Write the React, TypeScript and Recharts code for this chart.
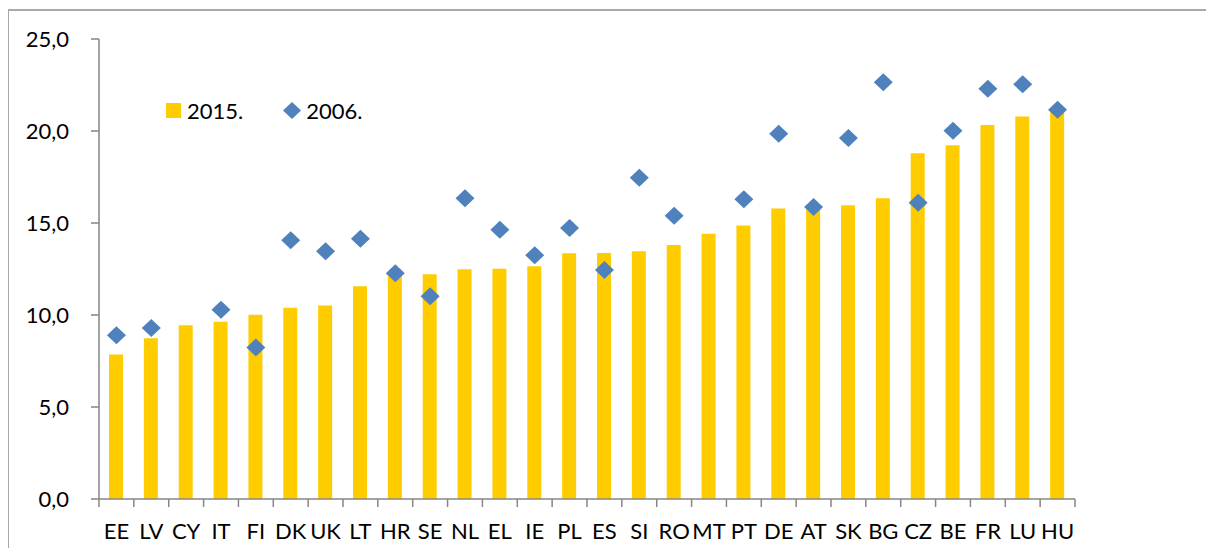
import { ComposedChart, Bar, Line, XAxis, YAxis } from "recharts";

const countries = [
  "EE", "LV", "CY", "IT", "FI", "DK", "UK", "LT", "HR", "SE", "NL", "EL", "IE", "PL",
  "ES", "SI", "RO", "MT", "PT", "DE", "AT", "SK", "BG", "CZ", "BE", "FR", "LU", "HU",
];
const values2015 = [
  7.85, 8.73, 9.44, 9.63, 10.02, 10.4, 10.52, 11.56, 12.25, 12.21, 12.48, 12.52, 12.65, 13.35,
  13.37, 13.46, 13.81, 14.42, 14.87, 15.79, 15.8, 15.96, 16.35, 18.79, 19.23, 20.33, 20.79, 21.05,
];
const values2006: (number | null)[] = [
  8.9, 9.29, null, 10.29, 8.23, 14.06, 13.46, 14.15, 12.27, 11.02, 16.35, 14.63, 13.25, 14.73,
  12.44, 17.46, 15.4, null, 16.29, 19.85, 15.87, 19.62, 22.65, 16.1, 20.02, 22.29, 22.54, 21.15,
];
const yTicks = [0, 5, 10, 15, 20, 25];
const seriesNames = ["2015.", "2006."];

const data = countries.map((country, i) => ({
  country,
  y2015: values2015[i],
  y2006: values2006[i],
}));

const W = 1214;
const H = 556;
const PLOT_LEFT = 99;
const PLOT_RIGHT = 1075;
const PLOT_TOP = 39;
const PLOT_BOTTOM = 499;
const Y_AXIS_W = 60;
const X_AXIS_H = 40;
const BAND = (PLOT_RIGHT - PLOT_LEFT) / countries.length;

const YELLOW = "#FFCC00";
const BLUE = "#4F81BD";
const AXIS = "#868686";
const FONT = "Lato, 'Open Sans', sans-serif";

function CountryTick(props: any) {
  const { x, payload, index } = props;
  const left = x - BAND / 2;
  const right = x + BAND / 2;
  return (
    <g>
      <line x1={left} x2={left} y1={PLOT_BOTTOM} y2={PLOT_BOTTOM + 8} stroke={AXIS} strokeWidth={1.5} />
      {index === countries.length - 1 && (
        <line x1={right} x2={right} y1={PLOT_BOTTOM} y2={PLOT_BOTTOM + 8} stroke={AXIS} strokeWidth={1.5} />
      )}
      <text
        x={x}
        y={PLOT_BOTTOM + 24}
        dy="0.71em"
        textAnchor="middle"
        fill="#000"
        fontSize={22}
        fontFamily={FONT}
      >
        {payload.value}
      </text>
    </g>
  );
}

function DiamondDot(props: any) {
  const { cx, cy, value, index } = props;
  if (value == null || cy == null || Number.isNaN(cy)) return <g key={index} />;
  const w = 9.5;
  const h = 9;
  return (
    <polygon
      key={index}
      points={`${cx},${cy - h} ${cx + w},${cy} ${cx},${cy + h} ${cx - w},${cy}`}
      fill={BLUE}
    />
  );
}

function LegendBox() {
  return (
    <div
      style={{
        position: "absolute",
        left: 166,
        top: 97,
        display: "flex",
        alignItems: "center",
        fontFamily: FONT,
        fontSize: 22,
        color: "#000",
      }}
    >
      <span style={{ width: 15, height: 15, background: YELLOW, display: "inline-block", marginRight: 6 }} />
      <span>{seriesNames[0]}</span>
      <svg width={18} height={17} style={{ marginLeft: 40, marginRight: 5 }}>
        <polygon points="9,0 18,8.5 9,17 0,8.5" fill={BLUE} />
      </svg>
      <span>{seriesNames[1]}</span>
    </div>
  );
}

export default function App() {
  return (
    <div style={{ position: "relative", width: W, height: H, margin: -8, overflow: "hidden", background: "#fff" }}>
      <div
        style={{
          position: "absolute",
          left: 7,
          top: 9,
          width: 1240,
          height: 600,
          border: "2px solid #a9a9a9",
        }}
      />
      <div style={{ position: "absolute", left: 0, top: 0 }}>
        <ComposedChart
          width={W}
          height={H}
          data={data}
          margin={{
            top: PLOT_TOP,
            right: W - PLOT_RIGHT,
            left: PLOT_LEFT - Y_AXIS_W,
            bottom: H - PLOT_BOTTOM - X_AXIS_H,
          }}
          barCategoryGap={0}
        >
          <XAxis
            dataKey="country"
            height={X_AXIS_H}
            interval={0}
            axisLine={{ stroke: AXIS, strokeWidth: 1.5 }}
            tickLine={false}
            tick={<CountryTick />}
          />
          <YAxis
            width={Y_AXIS_W}
            domain={[0, 25]}
            ticks={yTicks}
            tickFormatter={(v: number) => v.toFixed(1).replace(".", ",")}
            axisLine={{ stroke: AXIS, strokeWidth: 1.5 }}
            tickLine={{ stroke: AXIS, strokeWidth: 1.5 }}
            tickSize={8}
            tickMargin={22}
            tick={{ fill: "#000", fontSize: 22, fontFamily: FONT }}
          />
          <Bar dataKey="y2015" name={seriesNames[0]} fill={YELLOW} barSize={14} isAnimationActive={false} />
          <Line
            dataKey="y2006"
            name={seriesNames[1]}
            stroke="none"
            dot={<DiamondDot />}
            activeDot={false}
            connectNulls={false}
            isAnimationActive={false}
          />
        </ComposedChart>
      </div>
      <LegendBox />
    </div>
  );
}
